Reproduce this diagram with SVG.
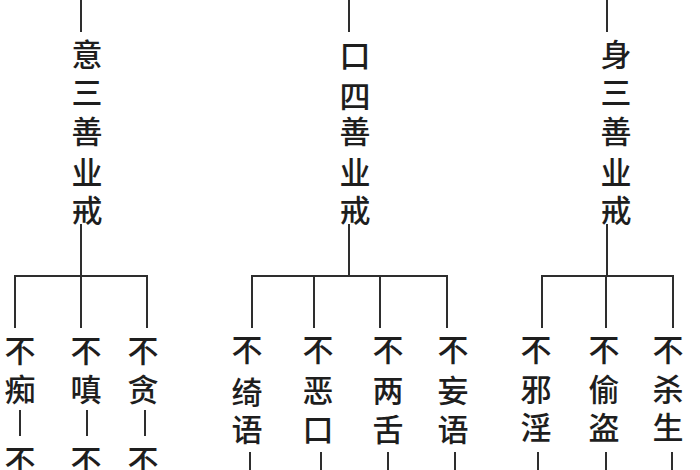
<svg xmlns="http://www.w3.org/2000/svg" width="700" height="470" viewBox="0 0 700 470">
<style>
.t{font-family:"Noto Sans CJK SC","Noto Sans CJK JP",sans-serif;font-size:31px;font-weight:500;fill:#1e1e1e;text-anchor:middle;dominant-baseline:central}
.c line{stroke:#2e2e2e;stroke-width:2;fill:none}
</style>
<rect width="700" height="470" fill="#fff"/>
<g class="c" id="connectors">
<line x1="81" y1="0" x2="81" y2="32"/>
<line x1="349" y1="0" x2="349" y2="32"/>
<line x1="607" y1="0" x2="607" y2="32"/>
<line x1="81" y1="224" x2="81" y2="276"/>
<line x1="349" y1="224" x2="349" y2="276"/>
<line x1="607" y1="224" x2="607" y2="276"/>
<line x1="14" y1="276" x2="148" y2="276"/>
<line x1="251" y1="276" x2="448" y2="276"/>
<line x1="541" y1="276" x2="674" y2="276"/>
<line x1="15" y1="276" x2="15" y2="328"/>
<line x1="81" y1="276" x2="81" y2="328"/>
<line x1="147" y1="276" x2="147" y2="328"/>
<line x1="252" y1="276" x2="252" y2="328"/>
<line x1="314" y1="276" x2="314" y2="328"/>
<line x1="380" y1="276" x2="380" y2="328"/>
<line x1="447" y1="276" x2="447" y2="328"/>
<line x1="542" y1="276" x2="542" y2="328"/>
<line x1="606" y1="276" x2="606" y2="328"/>
<line x1="673" y1="276" x2="673" y2="328"/>
<line x1="20" y1="410" x2="20" y2="436"/>
<line x1="87" y1="410" x2="87" y2="436"/>
<line x1="145" y1="410" x2="145" y2="436"/>
<line x1="250" y1="452" x2="250" y2="470"/>
<line x1="321" y1="452" x2="321" y2="470"/>
<line x1="388" y1="452" x2="388" y2="470"/>
<line x1="455" y1="452" x2="455" y2="470"/>
<line x1="538" y1="452" x2="538" y2="470"/>
<line x1="606" y1="452" x2="606" y2="470"/>
<line x1="672" y1="452" x2="672" y2="470"/>
</g>
<g id="yi"><text class="t"><tspan x="87" y="52">意</tspan><tspan x="87" y="90">三</tspan><tspan x="87" y="129">善</tspan><tspan x="87" y="170">业</tspan><tspan x="87" y="208">戒</tspan></text></g>
<g id="kou"><text class="t"><tspan x="355" y="53">口</tspan><tspan x="355" y="94">四</tspan><tspan x="355" y="129">善</tspan><tspan x="355" y="170">业</tspan><tspan x="355" y="208">戒</tspan></text></g>
<g id="shen"><text class="t"><tspan x="616" y="52">身</tspan><tspan x="616" y="90">三</tspan><tspan x="616" y="129">善</tspan><tspan x="616" y="170">业</tspan><tspan x="616" y="208">戒</tspan></text></g>
<g id="buchi"><text class="t"><tspan x="20" y="348">不</tspan><tspan x="20" y="387">痴</tspan><tspan x="20" y="458">不</tspan></text></g>
<g id="buchen"><text class="t"><tspan x="86" y="348">不</tspan><tspan x="86" y="387">嗔</tspan><tspan x="86" y="458">不</tspan></text></g>
<g id="butan"><text class="t"><tspan x="143" y="348">不</tspan><tspan x="143" y="387">贪</tspan><tspan x="143" y="458">不</tspan></text></g>
<g id="buqiyu"><text class="t"><tspan x="247" y="347">不</tspan><tspan x="247" y="390">绮</tspan><tspan x="247" y="427">语</tspan></text></g>
<g id="buekou"><text class="t"><tspan x="318" y="347">不</tspan><tspan x="318" y="388">恶</tspan><tspan x="318" y="427">口</tspan></text></g>
<g id="buliangshe"><text class="t"><tspan x="388" y="347">不</tspan><tspan x="388" y="388">两</tspan><tspan x="388" y="427">舌</tspan></text></g>
<g id="buwangyu"><text class="t"><tspan x="453" y="347">不</tspan><tspan x="453" y="388">妄</tspan><tspan x="453" y="427">语</tspan></text></g>
<g id="buxieyin"><text class="t"><tspan x="536" y="347">不</tspan><tspan x="536" y="387">邪</tspan><tspan x="536" y="425">淫</tspan></text></g>
<g id="butoudao"><text class="t"><tspan x="604" y="347">不</tspan><tspan x="604" y="387">偷</tspan><tspan x="604" y="425">盗</tspan></text></g>
<g id="busha"><text class="t"><tspan x="668" y="347">不</tspan><tspan x="668" y="387">杀</tspan><tspan x="668" y="425">生</tspan></text></g>
</svg>
